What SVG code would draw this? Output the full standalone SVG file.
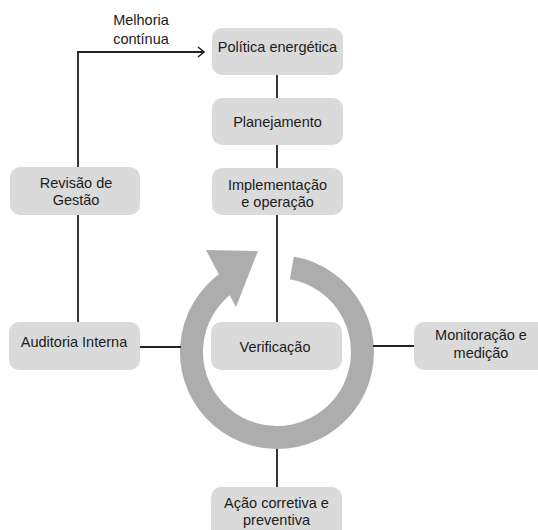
<svg xmlns="http://www.w3.org/2000/svg" width="538" height="530" viewBox="0 0 538 530">
  <style>
    .box { fill: #dadada; }
    .lbl { font-family: "Liberation Sans", Arial, sans-serif; font-size: 14.5px; fill: #1c1c1c; text-anchor: middle; }
    .conn { stroke: #222; stroke-width: 1.8; fill: none; }
    .ring { stroke: #adadad; stroke-width: 23; fill: none; }
  </style>
  <defs>
    <marker id="chev" markerWidth="10" markerHeight="12" refX="7" refY="6" orient="auto" markerUnits="userSpaceOnUse">
      <path d="M1,1 L7,6 L1,11" fill="none" stroke="#222" stroke-width="1.6"/>
    </marker>
  </defs>
  <rect width="538" height="530" fill="#ffffff"/>

  <g id="ciclo">
    <path class="ring" d="M 291.85 267.80 A 85.5 85.5 0 1 1 229.19 281.12"/>
    <polygon points="206,250 258,251 236,307" fill="#adadad"/>
  </g>

  <g id="connectors">
    <polyline class="conn" points="78,167 78,52 204,52" marker-end="url(#chev)"/>
    <line class="conn" x1="277" y1="75" x2="277" y2="98"/>
    <line class="conn" x1="277" y1="145" x2="277" y2="168"/>
    <line class="conn" x1="277" y1="215" x2="277" y2="323"/>
    <line class="conn" x1="78" y1="215" x2="78" y2="322"/>
    <line class="conn" x1="140" y1="347" x2="181" y2="347"/>
    <line class="conn" x1="373" y1="346" x2="414" y2="346"/>
    <line class="conn" x1="277" y1="449" x2="277" y2="487"/>
  </g>

  <g id="melhoria">
    <text class="lbl" x="141" y="25">Melhoria</text>
    <text class="lbl" x="141" y="44">contínua</text>
  </g>

  <g id="politica">
    <rect class="box" x="212" y="28" width="131" height="47" rx="10"/>
    <text class="lbl" x="277.5" y="52">Política energética</text>
  </g>

  <g id="planejamento">
    <rect class="box" x="212" y="98" width="131" height="47" rx="10"/>
    <text class="lbl" x="277.5" y="127">Planejamento</text>
  </g>

  <g id="implementacao">
    <rect class="box" x="212" y="168" width="131" height="47" rx="10"/>
    <text class="lbl" x="277.5" y="190">Implementação</text>
    <text class="lbl" x="277.5" y="207">e operação</text>
  </g>

  <g id="revisao">
    <rect class="box" x="10" y="167" width="130" height="48" rx="10"/>
    <text class="lbl" x="76" y="188">Revisão de</text>
    <text class="lbl" x="76" y="205">Gestão</text>
  </g>

  <g id="auditoria">
    <rect class="box" x="9" y="322" width="131" height="48" rx="10"/>
    <text class="lbl" x="74" y="347">Auditoria Interna</text>
  </g>

  <g id="verificacao">
    <rect class="box" x="211" y="322" width="131" height="48" rx="10"/>
    <text class="lbl" x="275" y="352">Verificação</text>
  </g>

  <g id="monitoracao">
    <rect class="box" x="414" y="322" width="136" height="48" rx="10"/>
    <text class="lbl" x="481" y="340">Monitoração e</text>
    <text class="lbl" x="481" y="358">medição</text>
  </g>

  <g id="acao">
    <rect class="box" x="211" y="487" width="131" height="55" rx="10"/>
    <text class="lbl" x="276.5" y="508">Ação corretiva e</text>
    <text class="lbl" x="276.5" y="525">preventiva</text>
  </g>
</svg>
